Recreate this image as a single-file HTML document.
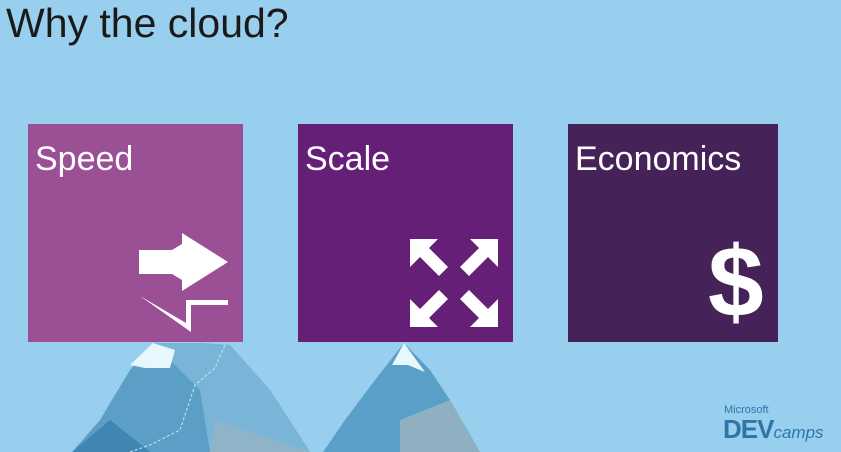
<!DOCTYPE html>
<html><head><style>
body{margin:0;width:841px;height:452px;overflow:hidden;background:#99cfee;font-family:"Liberation Sans",sans-serif;position:relative}
.t{position:absolute;left:6px;top:0px;font-size:41px;color:#1a1a1a}
.b{position:absolute;top:124px;height:218px;color:#fff;font-size:34px}
.b span{position:absolute;left:7px;top:16px}
</style></head><body>
<div class="t">Why the cloud?</div>
<svg width="841" height="452" style="position:absolute;left:0;top:0">
<polygon points="72,452 100,420 130,370 153,343 175,350 200,343 230,345 270,390 310,452" fill="#5b9ec6"/>
<polygon points="153,343 200,343 230,345 270,390 310,452 210,452 200,390" fill="#7ab5d8"/>
<polygon points="72,452 110,420 150,452" fill="#3f86b2"/>
<polygon points="215,420 310,452 210,452" fill="#8fb4c8"/>
<polygon points="130,365 153,343 175,350 170,368 145,368" fill="#e8f6fd"/>
<polyline points="130,452 150,445 180,430 195,385 215,368 225,345" fill="none" stroke="#cfe6f3" stroke-dasharray="3,2"/>
<polygon points="323,452 345,420 375,380 404,343 430,370 450,400 480,452" fill="#5a9fc8"/>
<polygon points="400,420 450,400 480,452 400,452" fill="#8fb0c0"/>
<polygon points="392,365 404,343 425,372 408,365" fill="#e8f6fd"/>
</svg>
<div class="b" style="left:28px;width:215px;background:#9b5096"><span>Speed</span>
<svg width="215" height="218" style="position:absolute;left:0;top:0">
<polygon points="111,126 144,126 154,120 154,109 200,138 154,167 154,156 144,150 111,150" fill="#fff"/>
<polygon points="112,172 158,199 158,176 200,176 200,181 163,181 163,208" fill="#fff"/>
</svg></div>
<div class="b" style="left:298px;width:215px;background:#661f77"><span>Scale</span>
<svg width="215" height="218" style="position:absolute;left:0;top:0" fill="#fff">
<polygon points="112,115 140,115 131,124 150,143 141,152 122,133 112,143"/>
<polygon points="200,115 172,115 181,124 162,143 171,152 190,133 200,143"/>
<polygon points="112,203 140,203 131,194 150,175 141,166 122,185 112,175"/>
<polygon points="200,203 172,203 181,194 162,175 171,166 190,185 200,175"/>
</svg></div>
<div class="b" style="left:568px;width:210px;background:#452257"><span>Economics</span>
<div style="position:absolute;left:140px;top:108px;font-size:100px;font-weight:bold;line-height:1">$</div></div>
<div style="position:absolute;left:724px;top:404px;color:#2e76a8;font-size:11px">Microsoft</div>
<div style="position:absolute;left:723px;top:414px;color:#2e76a8;font-size:26px;font-weight:bold;letter-spacing:-1px">DEV<i style="font-size:17px;font-weight:normal;letter-spacing:0">camps</i></div>
</body></html>
